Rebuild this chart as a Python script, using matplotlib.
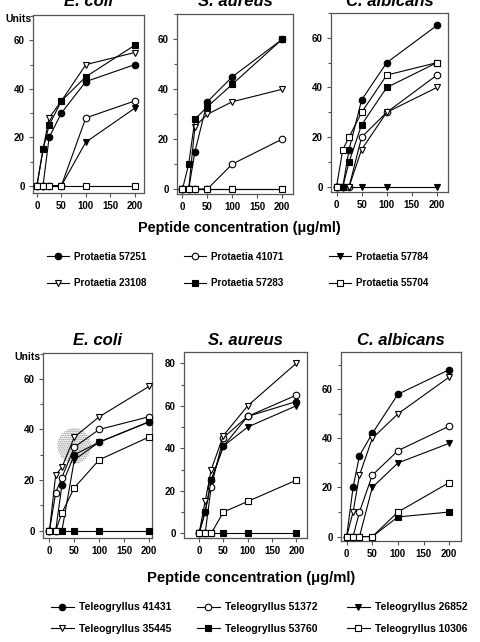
import matplotlib
matplotlib.use("Agg")
import matplotlib.pyplot as plt
from matplotlib.patches import Ellipse
from matplotlib.ticker import MultipleLocator

plt.rcParams['font.family'] = ['Liberation Sans', 'DejaVu Sans']
plt.rcParams['font.weight'] = 'bold'
plt.rcParams['hatch.linewidth'] = 0.8

conc = [0, 12.5, 25, 50, 100, 200]

# ---- Top panel: Protaetia peptides ----
top_labels = ["Protaetia 57251", "Protaetia 41071", "Protaetia 57784",
              "Protaetia 23108", "Protaetia 57283", "Protaetia 55704"]
top_ecoli = {
    "Protaetia 57251": [0, 0, 20, 30, 43, 50],
    "Protaetia 41071": [0, 0, 0, 0, 28, 35],
    "Protaetia 57784": [0, 0, 0, 0, 18, 32],
    "Protaetia 23108": [0, 15, 28, 35, 50, 55],
    "Protaetia 57283": [0, 15, 25, 35, 45, 58],
    "Protaetia 55704": [0, 0, 0, 0, 0, 0],
}
top_saureus = {
    "Protaetia 57251": [0, 0, 15, 35, 45, 60],
    "Protaetia 41071": [0, 0, 0, 0, 10, 20],
    "Protaetia 57784": [0, 0, 0, 0, 0, 0],
    "Protaetia 23108": [0, 0, 25, 30, 35, 40],
    "Protaetia 57283": [0, 10, 28, 33, 42, 60],
    "Protaetia 55704": [0, 0, 0, 0, 0, 0],
}
top_calbicans = {
    "Protaetia 57251": [0, 0, 15, 35, 50, 65],
    "Protaetia 41071": [0, 0, 0, 20, 30, 45],
    "Protaetia 57784": [0, 0, 0, 0, 0, 0],
    "Protaetia 23108": [0, 0, 0, 15, 30, 40],
    "Protaetia 57283": [0, 0, 10, 25, 40, 50],
    "Protaetia 55704": [0, 15, 20, 30, 45, 50],
}

# ---- Bottom panel: Teleogryllus peptides ----
bot_labels = ["Teleogryllus 41431", "Teleogryllus 51372", "Teleogryllus 26852",
              "Teleogryllus 35445", "Teleogryllus 53760", "Teleogryllus 10306"]
bot_ecoli = {
    "Teleogryllus 41431": [0, 0, 18, 30, 35, 43],
    "Teleogryllus 51372": [0, 15, 21, 33, 40, 45],
    "Teleogryllus 26852": [0, 0, 0, 28, 35, 43],
    "Teleogryllus 35445": [0, 22, 25, 37, 45, 57],
    "Teleogryllus 53760": [0, 0, 0, 0, 0, 0],
    "Teleogryllus 10306": [0, 0, 7, 17, 28, 37],
}
bot_saureus = {
    "Teleogryllus 41431": [0, 10, 25, 41, 55, 62],
    "Teleogryllus 51372": [0, 0, 22, 45, 55, 65],
    "Teleogryllus 26852": [0, 10, 25, 41, 50, 60],
    "Teleogryllus 35445": [0, 15, 30, 46, 60, 80],
    "Teleogryllus 53760": [0, 0, 0, 0, 0, 0],
    "Teleogryllus 10306": [0, 0, 0, 10, 15, 25],
}
bot_calbicans = {
    "Teleogryllus 41431": [0, 20, 33, 42, 58, 68],
    "Teleogryllus 51372": [0, 0, 10, 25, 35, 45],
    "Teleogryllus 26852": [0, 0, 0, 20, 30, 38],
    "Teleogryllus 35445": [0, 10, 25, 40, 50, 65],
    "Teleogryllus 53760": [0, 0, 0, 0, 8, 10],
    "Teleogryllus 10306": [0, 0, 0, 0, 10, 22],
}

titles = ["E. coli", "S. aureus", "C. albicans"]

# marker styles by position in label list: (marker, facecolor)
styles = [("o", "black"), ("o", "white"), ("v", "black"),
          ("v", "white"), ("s", "black"), ("s", "white")]

W, H = 480, 642
fig = plt.figure(figsize=(W / 100, H / 100), dpi=100)


def rect(l, r, t, b):
    return [l / W, 1 - b / H, (r - l) / W, (b - t) / H]


top_rects = [rect(33, 144, 15, 193), rect(177, 293, 14, 194), rect(331, 448, 13, 192)]
bot_rects = [rect(43, 152, 353, 538), rect(184, 307, 352, 538), rect(341, 461, 352, 541)]
top_xlims = [(-8, 219), (-11, 222), (-11, 222)]
bot_xlims = [(-13, 206), (-31, 222), (-11, 223)]
top_ylims = [(-3, 70.5), (-2, 70.2), (-2.1, 70)]
bot_ylims = [(-2.9, 70.2), (-2.2, 85.3), (-1.8, 75.2)]
spine_col = "#555555"


def draw_panel(rects, xlims, ylims, datasets, labels, title_y, units_y, units_x):
    handles = None
    axes = []
    for i, (r, xl, yl, data) in enumerate(zip(rects, xlims, ylims, datasets)):
        ax = fig.add_axes(r)
        axes.append(ax)
        hs = []
        for j, lab in enumerate(labels):
            m, fc = styles[j]
            h, = ax.plot(conc, data[lab], color="black", lw=0.8, marker=m,
                         markerfacecolor=fc, markeredgecolor="black",
                         markersize=4.7, markeredgewidth=0.8, label=lab,
                         clip_on=False, zorder=3)
            hs.append(h)
        if handles is None:
            handles = hs
        ax.set_xlim(*xl)
        ax.set_ylim(*yl)
        ax.set_xticks([0, 50, 100, 150, 200])
        ax.yaxis.set_major_locator(MultipleLocator(20))
        ax.yaxis.set_minor_locator(MultipleLocator(10))
        ax.tick_params(axis="both", which="both", direction="out", length=3,
                       width=0.8, color=spine_col, labelsize=7, pad=3)
        ax.tick_params(axis="y", which="minor", length=2)
        ax.tick_params(top=False, right=False)
        for s in ax.spines.values():
            s.set_color(spine_col)
            s.set_linewidth(0.9)
        for t in ax.get_xticklabels() + ax.get_yticklabels():
            t.set_fontweight("bold")
        pos = ax.get_position()
        fig.text(pos.x0 + pos.width / 2, 1 - title_y / H, titles[i],
                 ha="center", va="baseline", fontsize=12,
                 fontweight="bold", fontstyle="italic")
    fig.text(units_x / W, 1 - units_y / H, "Units", ha="left", va="center",
             fontsize=7.5, fontweight="bold")
    return handles, axes


h_top, ax_top = draw_panel(top_rects, top_xlims, top_ylims,
                           [top_ecoli, top_saureus, top_calbicans], top_labels,
                           title_y=6, units_y=19, units_x=5)
h_bot, ax_bot = draw_panel(bot_rects, bot_xlims, bot_ylims,
                           [bot_ecoli, bot_saureus, bot_calbicans], bot_labels,
                           title_y=345, units_y=357, units_x=14)

# grey speckled smudge visible in the source scan (bottom E. coli panel)
ax_bot[0].add_patch(Ellipse((50, 33.5), 68, 14, angle=0, facecolor="none",
                            edgecolor="#8c8c8c", linewidth=0,
                            hatch="........", zorder=1))

fig.text(239 / W, 1 - 228 / H, "Peptide concentration (μg/ml)", ha="center",
         va="center", fontsize=10.4, fontweight="bold")
fig.text(251 / W, 1 - 578 / H, "Peptide concentration (μg/ml)", ha="center",
         va="center", fontsize=10.6, fontweight="bold")


def add_legends(handles, xs, y1, y2, fs):
    for c, x in enumerate(xs):
        hs = [handles[c], handles[c + 3]]
        yc = (y1 + y2) / 2
        leg = fig.legend(handles=hs, loc="center left",
                         bbox_to_anchor=(x / W, 1 - yc / H),
                         frameon=False, fontsize=fs, handlelength=2.2,
                         handletextpad=0.5, borderaxespad=0, borderpad=0,
                         labelspacing=(y2 - y1) / (fs * 1.39) - 1.0)
        for t in leg.get_texts():
            t.set_fontweight("bold")


add_legends(h_top, [47, 184, 329], 257, 283, 7.1)
add_legends(h_bot, [51, 197, 347], 607, 629, 7.5)

fig.savefig("out.png", dpi=100)
